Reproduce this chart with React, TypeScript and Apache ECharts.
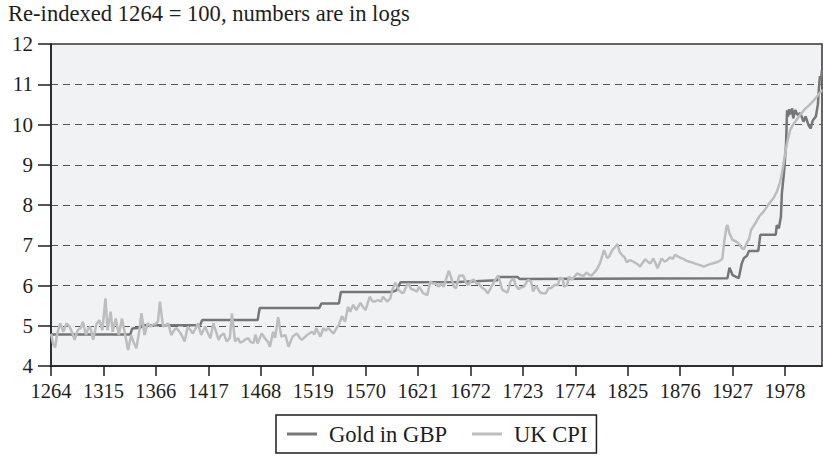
import React, { useEffect, useRef } from 'react';
import * as echarts from 'echarts';

const TITLE = 'Re-indexed 1264 = 100, numbers are in logs';
const SERIES_NAMES = ['Gold in GBP', 'UK CPI'];
const X_TICKS = [1264, 1315, 1366, 1417, 1468, 1519, 1570, 1621, 1672, 1723, 1774, 1825, 1876, 1927, 1978];
const Y_MIN = 4;
const Y_MAX = 12;
const X_MIN = 1264;
const X_MAX = 2014;

const GOLD: [number, number][] = [
  [1264, 4.78], [1341, 4.78], [1343, 4.93], [1351, 4.95], [1353, 5.01], [1409, 5.01],
  [1411, 5.14], [1465, 5.14], [1467, 5.44], [1525, 5.44], [1527, 5.55], [1544, 5.55],
  [1546, 5.84], [1596, 5.84], [1600, 5.88], [1604, 6.08], [1660, 6.09], [1698, 6.13],
  [1700, 6.21], [1718, 6.21], [1720, 6.16], [1922, 6.18], [1924, 6.44], [1927, 6.26],
  [1930, 6.22], [1933, 6.18], [1936, 6.55], [1938, 6.68], [1941, 6.74], [1943, 6.86],
  [1952, 6.86], [1954, 7.26], [1969, 7.26], [1970, 7.5], [1972, 7.42], [1974, 7.7],
  [1975, 8.3], [1977, 8.8], [1979, 9.5], [1980, 10.35], [1981, 10.2], [1982, 10.38],
  [1983, 10.25], [1985, 10.4], [1986, 10.15], [1988, 10.36], [1990, 10.24], [1993, 10.28],
  [1996, 10.07], [1998, 10.2], [2001, 9.98], [2003, 9.9], [2005, 10.1], [2008, 10.2],
  [2010, 10.5], [2011, 10.9], [2012, 11.2], [2013, 11.1], [2014, 11.35],
];

const CPI: [number, number][] = [
  [1264, 4.8], [1266, 4.55], [1268, 4.46], [1270, 4.8], [1273, 5.06], [1276, 4.85],
  [1279, 5.06], [1282, 4.98], [1285, 4.8], [1287, 4.65], [1290, 4.89], [1293, 4.95],
  [1295, 5.1], [1298, 4.77], [1300, 4.92], [1302, 4.98], [1305, 4.65], [1308, 5.02],
  [1311, 5.14], [1314, 4.89], [1317, 5.68], [1319, 4.89], [1322, 5.35], [1324, 4.85],
  [1327, 5.18], [1330, 4.77], [1333, 5.18], [1336, 4.8], [1338, 4.52], [1339, 4.4],
  [1342, 4.77], [1344, 4.61], [1347, 4.44], [1350, 4.89], [1352, 5.31], [1355, 4.77],
  [1358, 5.06], [1361, 4.98], [1363, 5.02], [1366, 5.05], [1368, 5.1], [1370, 5.6],
  [1373, 4.98], [1376, 5.02], [1378, 5.06], [1381, 4.77], [1384, 4.9], [1386, 4.94],
  [1389, 4.85], [1391, 4.77], [1394, 4.61], [1397, 4.98], [1400, 4.88], [1402, 4.81],
  [1405, 4.95], [1407, 5.06], [1410, 4.77], [1414, 4.98], [1416, 4.85], [1419, 4.69],
  [1422, 5.06], [1424, 4.9], [1427, 4.65], [1429, 4.75], [1432, 4.81], [1435, 4.61],
  [1438, 4.7], [1440, 5.31], [1443, 4.61], [1446, 4.69], [1448, 4.58], [1451, 4.61],
  [1453, 4.66], [1456, 4.69], [1458, 4.6], [1461, 4.57], [1463, 4.78], [1465, 4.56],
  [1469, 4.81], [1472, 4.69], [1475, 4.6], [1477, 4.48], [1480, 4.85], [1482, 4.7],
  [1485, 5.21], [1488, 4.73], [1492, 4.77], [1495, 4.48], [1499, 4.73], [1503, 4.81],
  [1506, 4.7], [1508, 4.65], [1511, 4.72], [1513, 4.77], [1516, 4.82], [1518, 4.85],
  [1520, 4.78], [1522, 4.94], [1526, 4.73], [1529, 4.94], [1531, 4.88], [1534, 4.94],
  [1537, 4.85], [1539, 4.81], [1542, 4.95], [1544, 5.02], [1547, 5.24], [1550, 5.1],
  [1553, 5.47], [1555, 5.35], [1558, 5.52], [1561, 5.39], [1565, 5.57], [1567, 5.48],
  [1570, 5.39], [1574, 5.72], [1577, 5.6], [1579, 5.6], [1582, 5.64], [1585, 5.6],
  [1587, 5.72], [1591, 5.6], [1594, 5.68], [1596, 5.89], [1599, 6.07], [1602, 5.9],
  [1605, 5.82], [1607, 5.82], [1610, 6.0], [1612, 6.05], [1614, 5.92], [1617, 5.89],
  [1620, 5.85], [1622, 5.97], [1626, 5.81], [1630, 5.76], [1633, 6.1], [1635, 6.05],
  [1638, 6.05], [1641, 5.97], [1644, 6.05], [1646, 5.97], [1651, 6.37], [1654, 6.14],
  [1656, 5.97], [1658, 5.93], [1661, 6.24], [1665, 6.25], [1668, 6.05], [1670, 6.01],
  [1672, 6.1], [1675, 6.15], [1678, 6.05], [1680, 6.05], [1683, 5.95], [1686, 5.9],
  [1689, 5.8], [1692, 5.95], [1696, 6.14], [1699, 6.25], [1703, 5.89], [1706, 5.85],
  [1708, 5.82], [1711, 6.1], [1714, 6.18], [1716, 6.0], [1719, 5.91], [1721, 5.95],
  [1724, 5.97], [1728, 6.14], [1731, 6.1], [1733, 5.85], [1736, 6.0], [1738, 5.9],
  [1740, 5.82], [1743, 5.81], [1745, 5.8], [1748, 5.93], [1750, 5.93], [1754, 6.01],
  [1757, 6.01], [1759, 6.2], [1762, 6.15], [1763, 5.97], [1766, 6.01], [1768, 6.22],
  [1771, 6.14], [1773, 6.22], [1776, 6.3], [1779, 6.26], [1782, 6.24], [1785, 6.32],
  [1788, 6.26], [1790, 6.25], [1793, 6.34], [1795, 6.4], [1798, 6.55], [1800, 6.72],
  [1802, 6.88], [1805, 6.68], [1807, 6.72], [1810, 6.88], [1813, 6.96], [1815, 7.03],
  [1817, 6.84], [1820, 6.74], [1822, 6.7], [1824, 6.58], [1827, 6.63], [1830, 6.6],
  [1832, 6.57], [1835, 6.52], [1837, 6.47], [1840, 6.58], [1842, 6.65], [1845, 6.58],
  [1847, 6.55], [1850, 6.67], [1852, 6.55], [1854, 6.43], [1856, 6.55], [1858, 6.67],
  [1861, 6.59], [1863, 6.62], [1866, 6.7], [1869, 6.66], [1871, 6.76], [1874, 6.72],
  [1876, 6.69], [1879, 6.66], [1882, 6.62], [1885, 6.59], [1888, 6.57], [1892, 6.53],
  [1896, 6.5], [1899, 6.47], [1902, 6.5], [1905, 6.53], [1909, 6.56], [1913, 6.59],
  [1917, 6.66], [1919, 7.1], [1921, 7.45], [1922, 7.5], [1924, 7.3], [1927, 7.13],
  [1930, 7.1], [1933, 7.04], [1936, 6.93], [1938, 6.9], [1941, 7.06], [1943, 7.15],
  [1945, 7.38], [1949, 7.54], [1953, 7.72], [1957, 7.83], [1961, 7.98], [1964, 8.08],
  [1967, 8.18], [1970, 8.33], [1973, 8.55], [1975, 8.79], [1977, 9.1], [1979, 9.41],
  [1981, 9.65], [1983, 9.86], [1986, 10.0], [1988, 10.07], [1991, 10.18], [1994, 10.28],
  [1998, 10.4], [2002, 10.49], [2006, 10.6], [2009, 10.69], [2012, 10.79], [2014, 10.86],
];

const FONT = '"Liberation Serif", "Times New Roman", serif';
const INK = '#1e1e1e';

export default function App() {
  const ref = useRef<HTMLDivElement>(null);
  useEffect(() => {
    document.body.style.margin = '0';
    if (!ref.current) return;
    const chart = echarts.init(ref.current, undefined, { renderer: 'svg' });
    const axisLine = { show: true, onZero: false, lineStyle: { color: INK, width: 1.5 } };
    chart.setOption({
      animation: false,
      backgroundColor: '#ffffff',
      title: {
        text: TITLE,
        left: 8,
        top: 2,
        padding: 0,
        textStyle: { fontFamily: FONT, fontSize: 22.6, fontWeight: 'normal', color: INK },
      },
      grid: {
        left: 51,
        right: 1,
        top: 44,
        bottom: 90,
        show: true,
        backgroundColor: '#f1f2f4',
        borderColor: '#333333',
        borderWidth: 1.5,
      },
      xAxis: {
        type: 'value',
        min: X_MIN,
        max: X_MAX,
        axisLine,
        axisTick: { show: true, customValues: X_TICKS, length: 10, lineStyle: { color: INK, width: 1.5 } },
        axisLabel: {
          customValues: X_TICKS,
          margin: 14,
          fontSize: 20.5,
          fontFamily: FONT,
          color: INK,
          formatter: (v: number) => String(v),
        },
        splitLine: { show: false },
      },
      yAxis: {
        type: 'value',
        min: Y_MIN,
        max: Y_MAX,
        interval: 1,
        axisLine,
        axisTick: { show: true, length: 13, lineStyle: { color: INK, width: 1.5 } },
        axisLabel: { margin: 18, fontSize: 21, fontFamily: FONT, color: INK },
        splitLine: {
          show: true,
          showMinLine: false,
          showMaxLine: false,
          lineStyle: { color: '#555555', type: [7, 5], width: 1 },
        },
      },
      legend: {
        data: SERIES_NAMES,
        left: 276,
        top: 415,
        orient: 'horizontal',
        padding: [7, 9, 7, 11],
        itemGap: 25,
        icon: 'rect',
        itemWidth: 30,
        itemHeight: 3,
        borderColor: INK,
        borderWidth: 1.5,
        textStyle: { fontFamily: FONT, fontSize: 22.6, lineHeight: 24, color: INK, padding: [0, 0, 0, 7] },
      },
      series: [
        {
          name: SERIES_NAMES[0],
          type: 'line',
          data: GOLD,
          symbol: 'none',
          showSymbol: false,
          lineStyle: { color: '#767676', width: 2.5 },
          itemStyle: { color: '#767676' },
        },
        {
          name: SERIES_NAMES[1],
          type: 'line',
          data: CPI,
          symbol: 'none',
          showSymbol: false,
          lineStyle: { color: '#bdbdbd', width: 2.5 },
          itemStyle: { color: '#bdbdbd' },
        },
      ],
    });
    return () => chart.dispose();
  }, []);
  return <div ref={ref} style={{ width: 823, height: 456, position: 'absolute', left: 0, top: 0 }} />;
}
